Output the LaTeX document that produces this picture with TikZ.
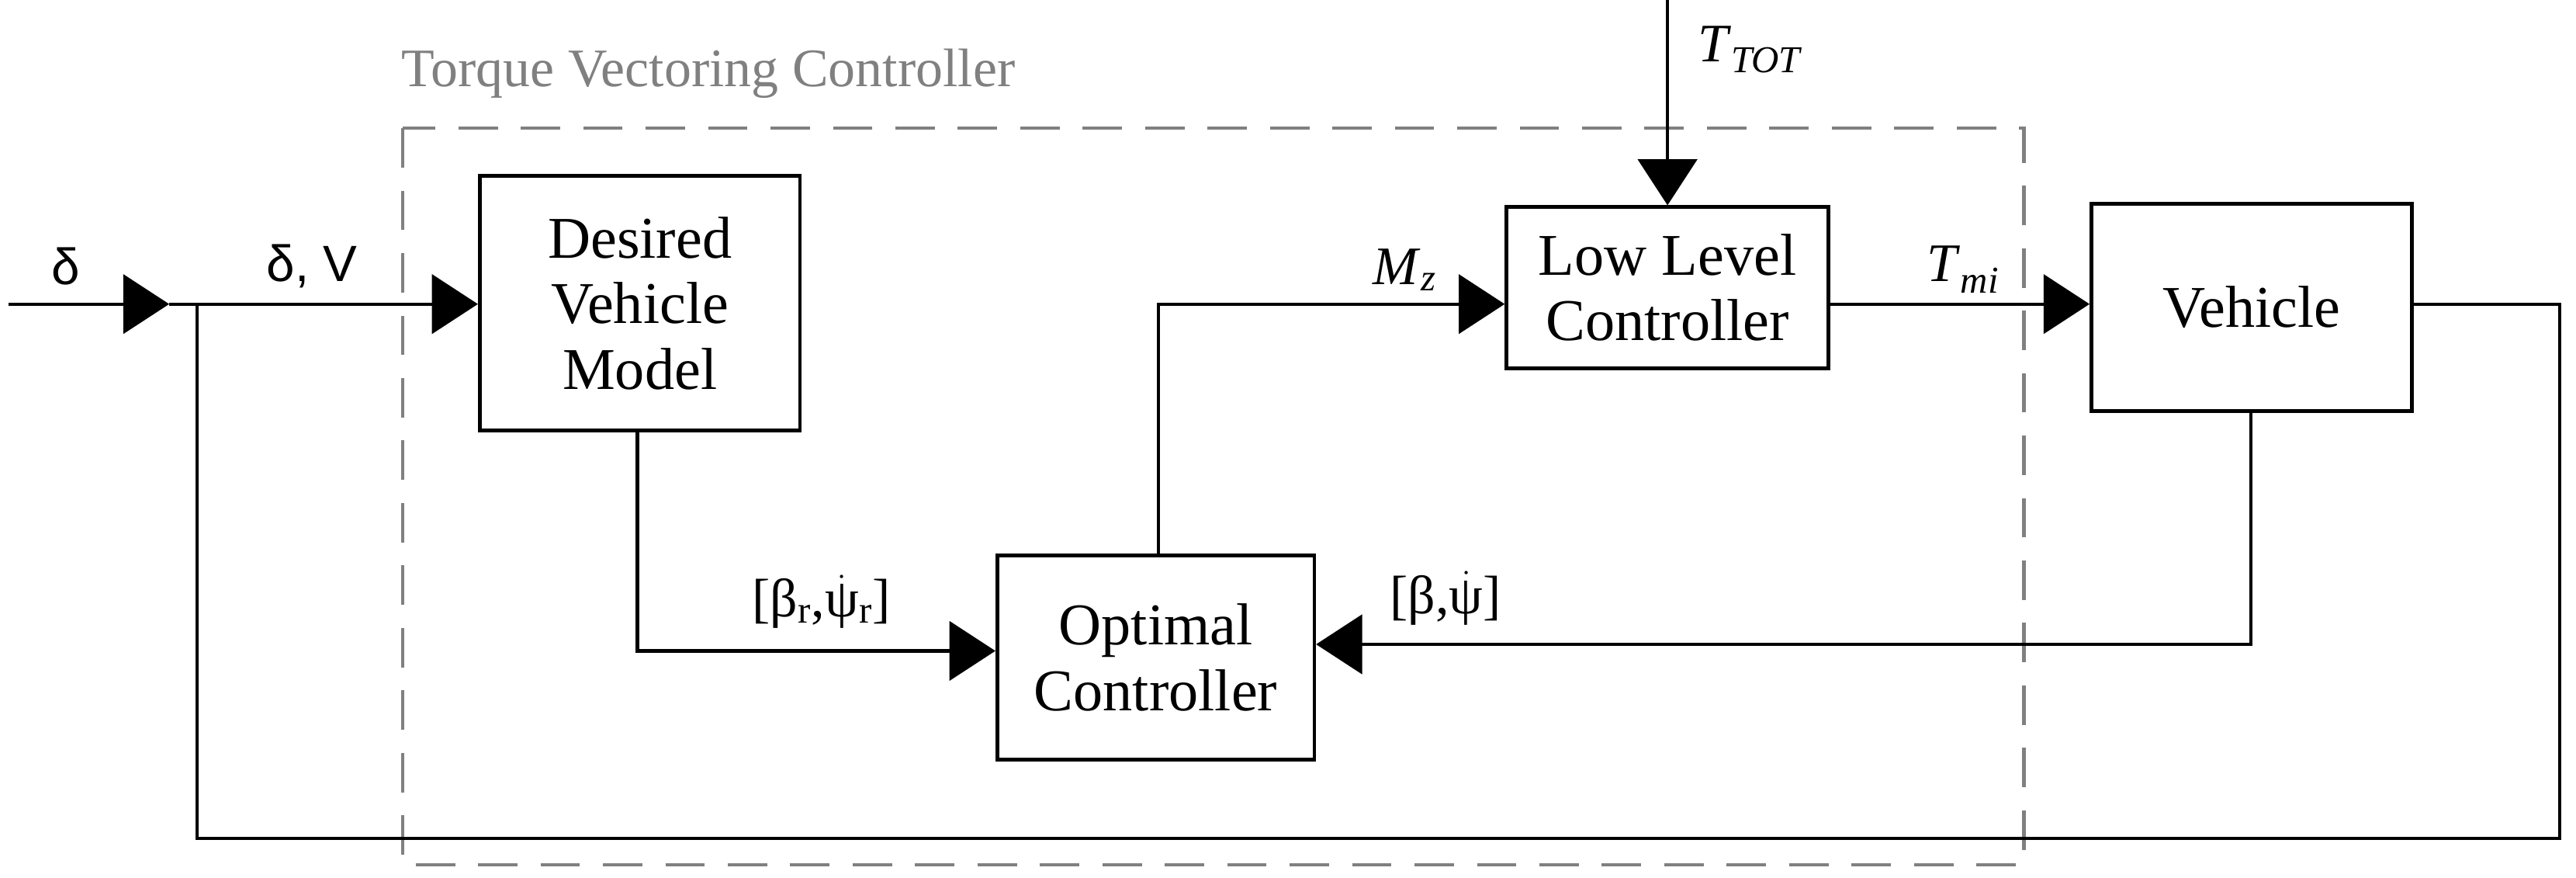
\documentclass[tikz,border=0pt]{standalone}
\usepackage{fontspec}
\setmainfont{Liberation Serif}
\newfontfamily\sans{Liberation Sans}
\usetikzlibrary{arrows.meta}
\begin{document}
\begin{tikzpicture}[x=1pt,y=-1pt,
  blk/.style={draw,line width=2.2pt,align=center,inner sep=0pt,font=\fontsize{36}{40}\selectfont},
  ln/.style={line width=2pt},
  arr/.style={ln,-{Triangle[length=28pt,width=36pt]}},
  lab/.style={font=\fontsize{33}{36}\selectfont}]
\useasboundingbox (0,0) rectangle (1568,534);
\draw[gray,line width=2pt,dash pattern=on 24pt off 14pt] (245,78) rectangle (1232,526);
\node[gray,anchor=west,font=\fontsize{33}{36}\selectfont] (tvc) at (241,45) {Torque Vectoring Controller};
\node[blk,minimum width=195pt,minimum height=155pt] (dvm) at (389.5,184.5) {Desired\\Vehicle\\Model};
\node[blk,minimum width=193pt,minimum height=124pt] (oc) at (703.5,400) {Optimal\\Controller};
\node[blk,minimum width=196pt,minimum height=98pt] (llc) at (1015,175) {Low Level\\Controller};
\node[blk,minimum width=195pt,minimum height=126pt] (veh) at (1370.5,187) {Vehicle};
\coordinate (in) at (5,185);
\coordinate (a1) at (103,185);
\coordinate (br) at (120,185);
\draw[arr] (in) -- (a1);
\draw[arr] (a1) -- (dvm.west|-a1);
\draw[ln] (br) -- (120,510) -- (1558,510) -- (1558,185) -- (veh.east|-br);
\node[font=\sans\fontsize{31}{34}\selectfont] (ld) at (40,162) {δ};
\node[font=\sans\fontsize{31}{34}\selectfont] (ldv) at (190,162) {δ, V};
\draw[arr] (dvm.south-|388,0) -- (388,396) -- (oc.west|-0,396);
\node[lab] (lbr) at (500,366) {[β\textsubscript{r},$\dot{\textrm{ψ}}$\textsubscript{r}]};
\draw[arr] (veh.south-|1370,0) -- (1370,392) -- (oc.east|-0,392);
\node[lab] (lb) at (880,364) {[β,$\dot{\textrm{ψ}}$]};
\draw[arr] (oc.north-|705,0) -- (705,185) -- (llc.west|-0,185);
\node[lab] (lmz) at (855,164) {\textit{M}\textsubscript{\textit{z}}};
\draw[arr] (llc.east|-0,185) -- (veh.west|-0,185);
\node[lab] (ltm) at (1195,164) {\textit{T}\textsubscript{\textit{mi}}};
\coordinate (tt) at (1015,0);
\draw[arr] (tt) -- (llc.north);
\node[lab,anchor=west] (ltt) at (1030,30) {\textit{T}\textsubscript{\textit{TOT}}};
\end{tikzpicture}
\end{document}
